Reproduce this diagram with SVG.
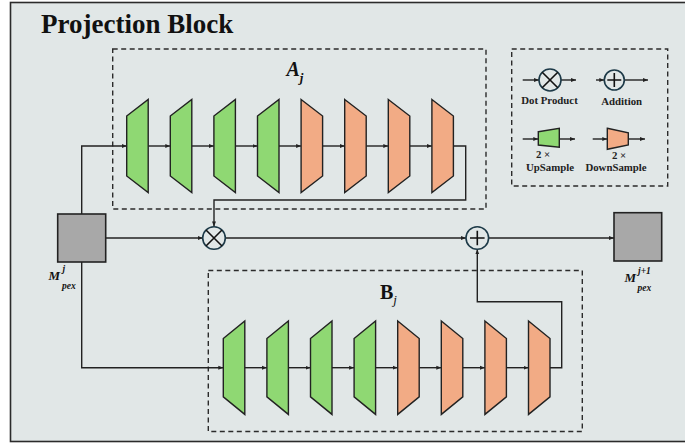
<svg xmlns="http://www.w3.org/2000/svg" width="685" height="444" viewBox="0 0 685 444">
  <defs>
    <style>
      .frame { fill: #e1e7e7; stroke: #2b2b2b; stroke-width: 1.6; }
      .dash { fill: none; stroke: #2b2b2b; stroke-width: 1.4; stroke-dasharray: 5 3.5; }
      .up { fill: #8fd873; stroke: #222; stroke-width: 1.4; stroke-linejoin: miter; }
      .down { fill: #f2ab85; stroke: #222; stroke-width: 1.4; stroke-linejoin: miter; }
      .feat { fill: #a8a8a8; stroke: #222; stroke-width: 1.6; }
      .op { fill: none; stroke: #1d3a48; stroke-width: 1.6; }
      .opmark { stroke: #111; stroke-width: 1.6; fill: none; }
      .arr { fill: none; stroke: #222; stroke-width: 1.4; marker-end: url(#head); }
      .title { font-family: "Liberation Serif", "Times New Roman", serif; font-weight: bold; font-size: 27px; fill: #111; }
      .leg { font-family: "Liberation Serif", "Times New Roman", serif; font-weight: bold; font-size: 10.8px; fill: #222; text-anchor: middle; }
      .math { font-family: "Liberation Serif", "Times New Roman", serif; font-weight: bold; font-style: italic; fill: #111; }
      .idx { font-family: "Liberation Serif", "Times New Roman", serif; font-weight: bold; font-style: italic; fill: #111; font-size: 9.5px; }
    </style>
    <marker id="head" viewBox="0 0 10 10" refX="10" refY="5" markerWidth="5" markerHeight="5" markerUnits="userSpaceOnUse" orient="auto">
      <path d="M0,1 L10,5 L0,9 z" fill="#222"/>
    </marker>
  </defs>

  <!-- panel background -->
  <rect x="0" y="0" width="685" height="444" fill="#ffffff"/>
  <rect class="frame" x="10.5" y="2.5" width="690" height="439"/>
  <text class="title" x="41" y="33">Projection Block</text>

  <!-- branch frames -->
  <rect class="dash" x="112.7" y="49" width="373.3" height="160"/>
  <rect class="dash" x="208.3" y="270.5" width="374" height="161"/>
  <rect class="dash" x="511.7" y="49" width="156" height="137"/>

  <text class="math" x="286.5" y="76" font-size="20">A<tspan font-size="13" dy="6">j</tspan></text>
  <text x="380" y="298.5" font-family="Liberation Serif, Times New Roman, serif" font-size="20" font-weight="bold" fill="#111">B<tspan font-size="13" font-weight="normal" font-style="italic" dy="5">j</tspan></text>

  <!-- connectors -->
  <g id="connectors">
    <!-- input to branch A -->
    <polyline class="arr" points="81.7,214 81.7,146 126.7,146"/>
    <line class="arr" x1="148.2" y1="146" x2="170.3" y2="146"/>
    <line class="arr" x1="191.8" y1="146" x2="213.9" y2="146"/>
    <line class="arr" x1="235.4" y1="146" x2="257.5" y2="146"/>
    <line class="arr" x1="279" y1="146" x2="301.1" y2="146"/>
    <line class="arr" x1="322.6" y1="146" x2="344.7" y2="146"/>
    <line class="arr" x1="366.2" y1="146" x2="388.3" y2="146"/>
    <line class="arr" x1="409.8" y1="146" x2="431.9" y2="146"/>
    <polyline class="arr" points="453.4,146 465.7,146 465.7,200 214,200 214,226.4"/>
    <!-- input to branch B -->
    <polyline class="arr" points="81.7,262 81.7,367.7 223.3,367.7"/>
    <line class="arr" x1="244.8" y1="367.7" x2="266.9" y2="367.7"/>
    <line class="arr" x1="288.4" y1="367.7" x2="310.5" y2="367.7"/>
    <line class="arr" x1="332" y1="367.7" x2="354.1" y2="367.7"/>
    <line class="arr" x1="375.6" y1="367.7" x2="397.7" y2="367.7"/>
    <line class="arr" x1="419.2" y1="367.7" x2="441.3" y2="367.7"/>
    <line class="arr" x1="462.8" y1="367.7" x2="484.9" y2="367.7"/>
    <line class="arr" x1="506.4" y1="367.7" x2="528.5" y2="367.7"/>
    <polyline class="arr" points="550,367.7 561.7,367.7 561.7,301.7 477.3,301.7 477.3,249.3"/>
    <!-- main path -->
    <line class="arr" x1="105.7" y1="238" x2="202.7" y2="238"/>
    <line class="arr" x1="225.3" y1="238" x2="466" y2="238"/>
    <line class="arr" x1="488.6" y1="238" x2="614" y2="238"/>
    <!-- legend arrows -->
    <line class="arr" x1="522.7" y1="80" x2="539" y2="80"/>
    <line class="arr" x1="561" y1="80" x2="576" y2="80"/>
    <line class="arr" x1="596" y1="80" x2="604.3" y2="80"/>
    <line class="arr" x1="624.3" y1="80" x2="648" y2="80"/>
    <line class="arr" x1="522.7" y1="139" x2="538.3" y2="139"/>
    <line class="arr" x1="559.3" y1="139" x2="575" y2="139"/>
    <line class="arr" x1="592.7" y1="139" x2="607.3" y2="139"/>
    <line class="arr" x1="628.3" y1="139" x2="645" y2="139"/>
  </g>

  <!-- branch A modules -->
  <g id="a-up1"><polygon class="up" points="126.7,116 148.2,99.5 148.2,192.5 126.7,176"/></g>
  <g id="a-up2"><polygon class="up" points="170.3,116 191.8,99.5 191.8,192.5 170.3,176"/></g>
  <g id="a-up3"><polygon class="up" points="213.9,116 235.4,99.5 235.4,192.5 213.9,176"/></g>
  <g id="a-up4"><polygon class="up" points="257.5,116 279,99.5 279,192.5 257.5,176"/></g>
  <g id="a-down1"><polygon class="down" points="301.1,99.5 322.6,116 322.6,176 301.1,192.5"/></g>
  <g id="a-down2"><polygon class="down" points="344.7,99.5 366.2,116 366.2,176 344.7,192.5"/></g>
  <g id="a-down3"><polygon class="down" points="388.3,99.5 409.8,116 409.8,176 388.3,192.5"/></g>
  <g id="a-down4"><polygon class="down" points="431.9,99.5 453.4,116 453.4,176 431.9,192.5"/></g>

  <!-- branch B modules -->
  <g id="b-up1"><polygon class="up" points="223.3,338.5 244.8,321 244.8,414.4 223.3,396.8"/></g>
  <g id="b-up2"><polygon class="up" points="266.9,338.5 288.4,321 288.4,414.4 266.9,396.8"/></g>
  <g id="b-up3"><polygon class="up" points="310.5,338.5 332,321 332,414.4 310.5,396.8"/></g>
  <g id="b-up4"><polygon class="up" points="354.1,338.5 375.6,321 375.6,414.4 354.1,396.8"/></g>
  <g id="b-down1"><polygon class="down" points="397.7,321 419.2,338.5 419.2,396.8 397.7,414.4"/></g>
  <g id="b-down2"><polygon class="down" points="441.3,321 462.8,338.5 462.8,396.8 441.3,414.4"/></g>
  <g id="b-down3"><polygon class="down" points="484.9,321 506.4,338.5 506.4,396.8 484.9,414.4"/></g>
  <g id="b-down4"><polygon class="down" points="528.5,321 550,338.5 550,396.8 528.5,414.4"/></g>

  <!-- feature maps -->
  <g id="m-in">
    <rect class="feat" x="57.7" y="214" width="48" height="48"/>
    <text class="math" x="48.5" y="280" font-size="13">M</text>
    <text class="idx" x="62.5" y="272">j</text>
    <text class="idx" x="62" y="288.5">pex</text>
  </g>
  <g id="m-out">
    <rect class="feat" x="614" y="212.7" width="47.7" height="48.3"/>
    <text class="math" x="624.5" y="282" font-size="13">M</text>
    <text class="idx" x="638" y="274">j+1</text>
    <text class="idx" x="637.5" y="290.5">pex</text>
  </g>

  <!-- operators -->
  <g id="dot-product">
    <circle class="op" cx="214" cy="238" r="11.3"/>
    <path class="opmark" d="M206,230 L222,246 M222,230 L206,246"/>
  </g>
  <g id="addition">
    <circle class="op" cx="477.3" cy="238" r="11.3"/>
    <path class="opmark" d="M470,238 L484.6,238 M477.3,230.7 L477.3,245.3"/>
  </g>

  <!-- legend -->
  <g id="legend-dot">
    <circle class="op" cx="550" cy="80" r="11"/>
    <path class="opmark" d="M542.2,72.2 L557.8,87.8 M557.8,72.2 L542.2,87.8"/>
    <text class="leg" x="549.5" y="104">Dot Product</text>
  </g>
  <g id="legend-add">
    <circle class="op" cx="614.3" cy="80" r="10"/>
    <path class="opmark" d="M607.3,80 L621.3,80 M614.3,73 L614.3,87"/>
    <text class="leg" x="621.7" y="104.5">Addition</text>
  </g>
  <g id="legend-up">
    <polygon class="up" points="538.3,131.7 559.3,128.3 559.3,147.3 538.3,145"/>
    <text class="leg" x="543" y="158">2 ×</text>
    <text class="leg" x="550" y="170.5">UpSample</text>
  </g>
  <g id="legend-down">
    <polygon class="down" points="607.3,128.3 628.3,132.7 628.3,145 607.3,149.3"/>
    <text class="leg" x="619" y="158.5">2 ×</text>
    <text class="leg" x="616" y="171">DownSample</text>
  </g>
</svg>
